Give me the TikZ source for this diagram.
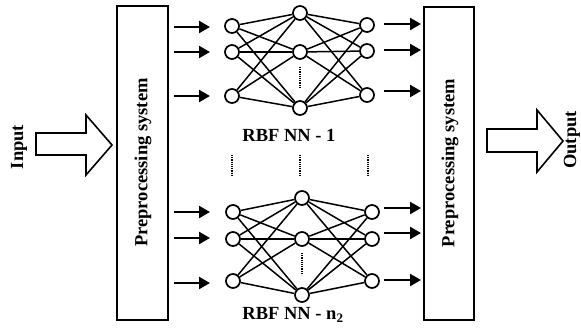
\documentclass[tikz,border=0pt]{standalone}
\usepackage{fontspec}
\setmainfont{Liberation Serif}
\usetikzlibrary{arrows.meta}
\begin{document}
\begin{tikzpicture}[x=1pt,y=-1pt,
  neuron/.style={circle,draw,line width=1.7pt,minimum size=14pt,inner sep=0pt,fill=white},
  link/.style={line width=1.5pt},
  sig/.style={line width=2.4pt,-{Triangle[length=11pt,width=12pt]}},
  procbox/.style={draw,line width=2pt,minimum width=51pt,minimum height=314pt,inner sep=0pt},
  lbl/.style={font=\fontsize{18.5}{20}\selectfont\bfseries,inner sep=0pt},
  dots/.style={line width=1.2pt,dash pattern=on 1.1pt off 1.1pt},
  bigarrow/.style={draw,line width=1.6pt,fill=white,line join=miter}]
\useasboundingbox (0,0) rectangle (581,327);

% processing boxes
\node[procbox] (pre1) at (142.5,163) {};
\node[procbox,minimum width=50pt,minimum height=313pt] (pre2) at (449,163.5) {};
\node[lbl,rotate=90] (pre1t) at (143,162.5) {Preprocessing system};
\node[lbl,rotate=90] (pre2t) at (450,163) {Preprocessing system};

% big arrows
\draw[bigarrow] (36,133) -- (86,133) -- (86,115) -- (112,145) -- (86,175) -- (86,155) -- (36,155) -- cycle;
\draw[bigarrow] (487,129) -- (537,129) -- (537,110) -- (563,141) -- (537,172) -- (537,152) -- (487,152) -- cycle;
\node[lbl,rotate=90] (inlbl) at (19,147) {Input};
\node[lbl,rotate=90] (outlbl) at (572,140) {Output};

% network 1
\node[neuron] (i11) at (232,26) {};
\node[neuron] (i12) at (232,52) {};
\node[neuron] (i13) at (232,96) {};
\node[neuron] (h11) at (300,13) {};
\node[neuron] (h12) at (300,52) {};
\node[neuron] (h13) at (300,108) {};
\node[neuron] (o11) at (367,25) {};
\node[neuron] (o12) at (367,51) {};
\node[neuron] (o13) at (367,95) {};
\foreach \a in {1,2,3}{
  \foreach \b in {1,2,3}{
    \draw[link] (i1\a) -- (h1\b);
    \draw[link] (h1\a) -- (o1\b);
  }
}
\coordinate (d1a) at (300,67);
\coordinate (d1b) at (300,88);
\draw[dots] (d1a) -- (d1b);
\node[lbl] (rbf1) at (289,135) {RBF NN - 1};

% network 2
\node[neuron] (i21) at (233,212) {};
\node[neuron] (i22) at (233,239) {};
\node[neuron] (i23) at (233,281) {};
\node[neuron] (h21) at (302,198) {};
\node[neuron] (h22) at (302,239) {};
\node[neuron] (h23) at (302,295) {};
\node[neuron] (o21) at (372,212) {};
\node[neuron] (o22) at (372,239) {};
\node[neuron] (o23) at (372,281) {};
\foreach \a in {1,2,3}{
  \foreach \b in {1,2,3}{
    \draw[link] (i2\a) -- (h2\b);
    \draw[link] (h2\a) -- (o2\b);
  }
}
\coordinate (d2a) at (302,253);
\coordinate (d2b) at (302,275);
\draw[dots] (d2a) -- (d2b);
\node[lbl] (rbf2) at (293,315) {RBF NN - n\textsubscript{2}};

% dotted separators between networks
\coordinate (s1a) at (232,155); \coordinate (s1b) at (232,175);
\coordinate (s2a) at (300,155); \coordinate (s2b) at (300,175);
\coordinate (s3a) at (368,155); \coordinate (s3b) at (368,175);
\draw[dots] (s1a) -- (s1b);
\draw[dots,line width=2.2pt] (s2a) -- (s2b);
\draw[dots] (s3a) -- (s3b);

% input signal arrows
\foreach \n/\y in {1/27,2/52,3/96,4/212,5/238,6/283}{
  \coordinate (ia\n) at (174,\y);
  \coordinate (ib\n) at (210,\y);
  \draw[sig] (ia\n) -- (ib\n);
}
% output signal arrows
\foreach \n/\y in {1/24,2/50,3/91,4/208,5/233,6/280}{
  \coordinate (oa\n) at (384,\y);
  \coordinate (ob\n) at (421,\y);
  \draw[sig] (oa\n) -- (ob\n);
}
\end{tikzpicture}
\end{document}
